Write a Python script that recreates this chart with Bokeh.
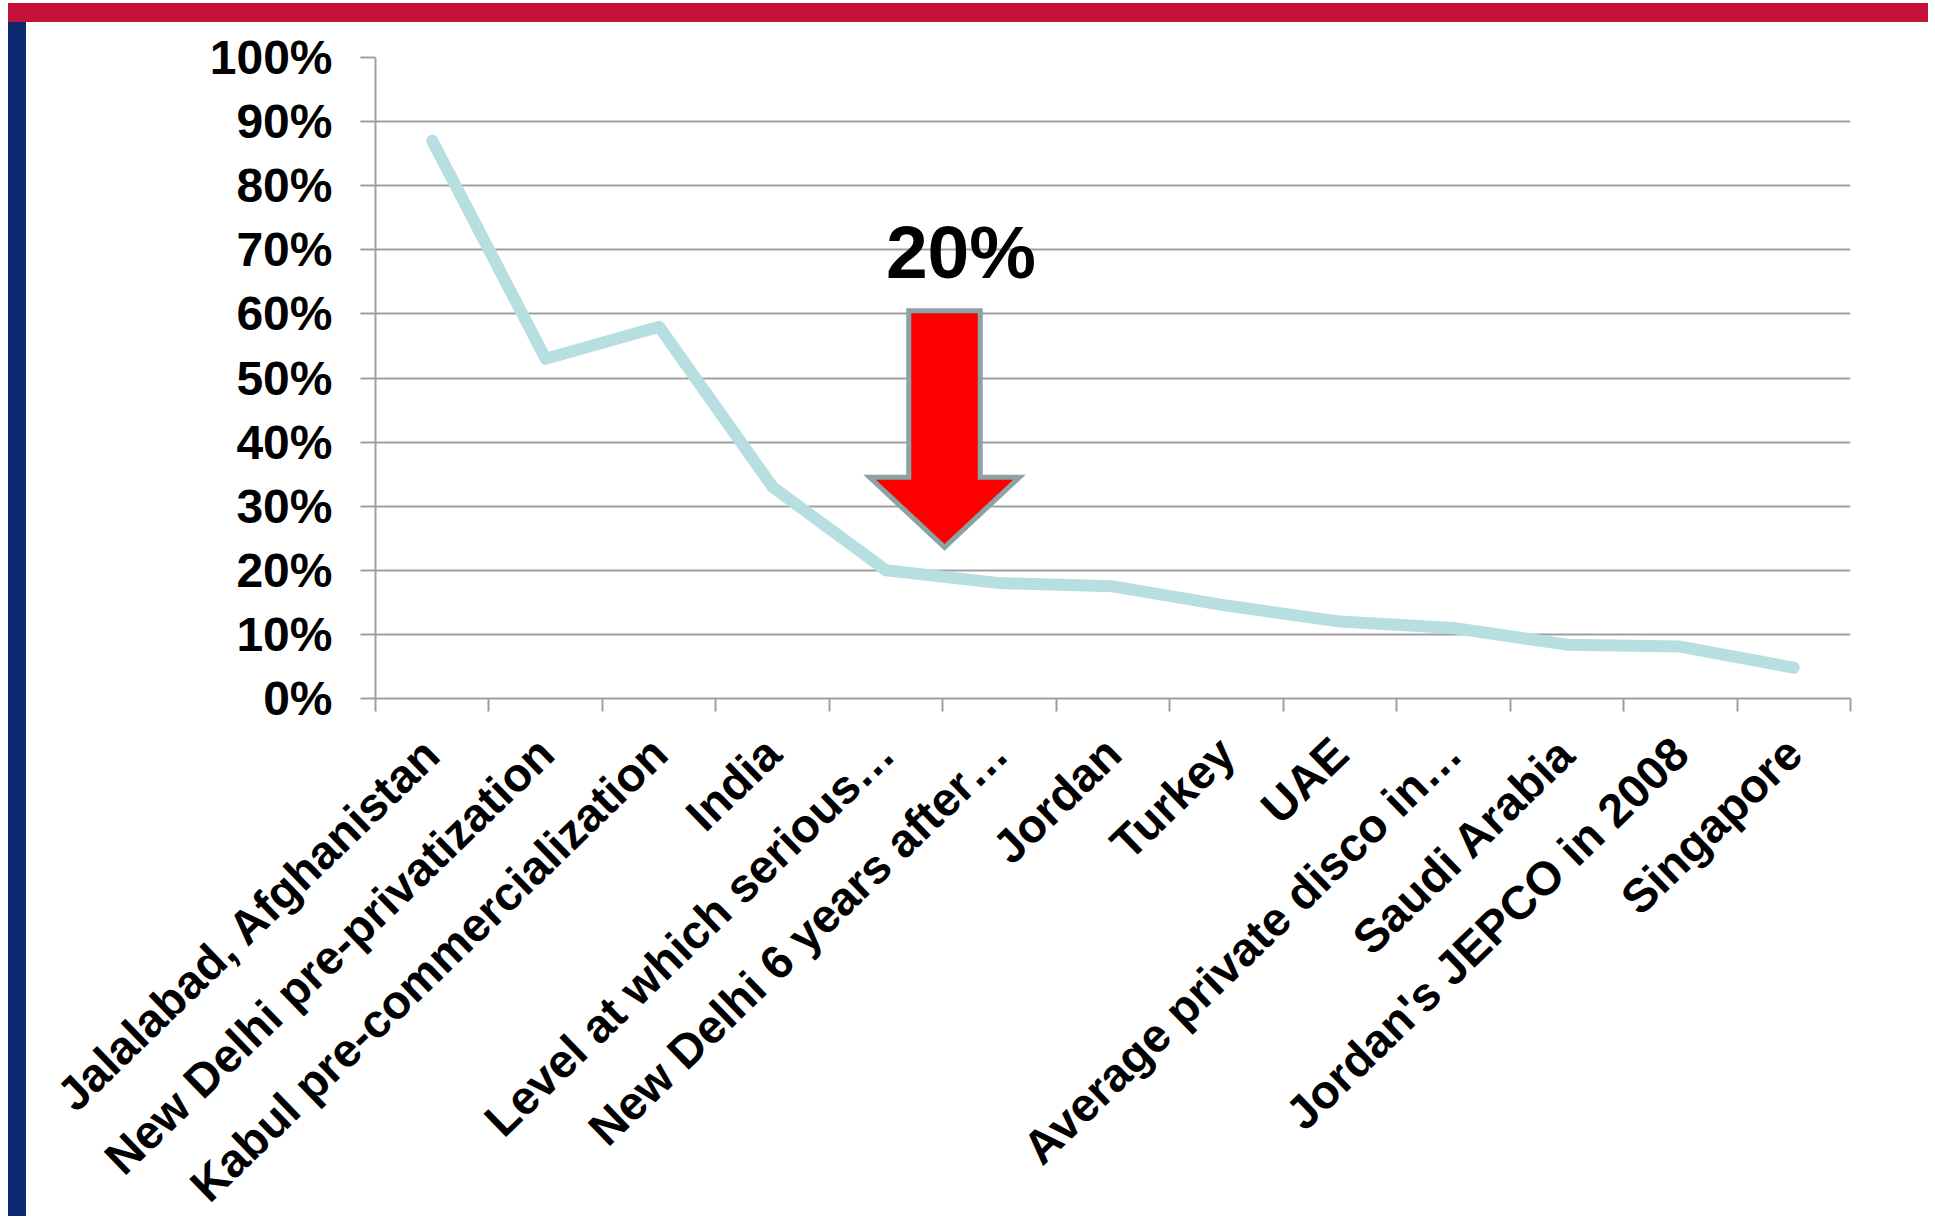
from bokeh.plotting import figure
from bokeh.models import (Range1d, LinearAxis, FixedTicker, NumeralTickFormatter,
                          Label, ColumnDataSource, Div)
from bokeh.layouts import column, row
from bokeh.embed import file_html
from bokeh.resources import INLINE

# ---- data ----
categories = [
    "Jalalabad, Afghanistan",
    "New Delhi pre-privatization",
    "Kabul pre-commercialization",
    "India",
    "Level at which serious\u2026",
    "New Delhi 6 years after\u2026",
    "Jordan",
    "Turkey",
    "UAE",
    "Average private disco in\u2026",
    "Saudi Arabia",
    "Jordan's JEPCO in 2008",
    "Singapore",
]
values = [0.87, 0.53, 0.58, 0.33, 0.20, 0.18, 0.175, 0.145, 0.12, 0.11, 0.084, 0.081, 0.048]
y_ticks = [0.0, 0.1, 0.2, 0.3, 0.4, 0.5, 0.6, 0.7, 0.8, 0.9, 1.0]
callout_text = "20%"

FONT = "Liberation Sans"
GRID = "#9f9f9f"
LINE = "#b7dfe2"
RED_BAR = "#c41239"
BLUE_BAR = "#0b2a6f"

n = len(categories)
centers = [i + 0.5 for i in range(n)]        # category slot centres
bounds = list(range(n + 1))                  # category slot boundaries

# ---- main chart ----
p = figure(frame_width=1475, frame_height=641, x_range=Range1d(0, n), y_range=Range1d(0, 1),
           x_axis_location=None, y_axis_location="left",
           output_backend="svg", toolbar_location=None,
           min_border_left=349, min_border_right=78, min_border_top=35, min_border_bottom=480)
p.outline_line_color = None
p.background_fill_color = "white"
p.border_fill_color = "white"
p.xgrid.grid_line_color = None

# y axis
ya = p.yaxis[0]
ya.ticker = FixedTicker(ticks=y_ticks)
ya.formatter = NumeralTickFormatter(format="0%")
ya.major_label_text_font = FONT
ya.major_label_text_font_style = "bold"
ya.major_label_text_font_size = "48px"
ya.major_label_text_color = "black"
ya.major_label_standoff = 28
ya.major_tick_out = 15
ya.major_tick_in = 0
ya.minor_tick_line_color = None
ya.axis_line_color = GRID
ya.axis_line_width = 2
ya.major_tick_line_color = GRID
ya.major_tick_line_width = 2

p.ygrid.grid_line_color = GRID
p.ygrid.grid_line_width = 2

# x axis: labels at slot centres, tick marks (minor) at slot boundaries
xa = LinearAxis(ticker=FixedTicker(ticks=centers, minor_ticks=bounds))
xa.major_label_overrides = {c: name for c, name in zip(centers, categories)}
xa.axis_line_color = GRID
xa.axis_line_width = 2
xa.major_tick_line_color = None
xa.major_tick_out = 0
xa.major_tick_in = 0
xa.minor_tick_line_color = GRID
xa.minor_tick_line_width = 2
xa.minor_tick_out = 13
xa.minor_tick_in = 0
xa.major_label_orientation = 0.77
xa.major_label_text_font = FONT
xa.major_label_text_font_style = "bold"
xa.major_label_text_font_size = "47px"
xa.major_label_text_color = "black"
xa.major_label_standoff = 34
p.add_layout(xa, "below")

# the series
src = ColumnDataSource(data=dict(x=centers, val=values, cat=categories))
p.line(x="x", y="val", source=src, line_color=LINE, line_width=12,
       line_cap="round", line_join="round")

# callout arrow (annotation shape, pointing at the boundary after "Level at which serious…")
ax = 5.015
shaft_hw = 0.315
head_hw = 0.66
shaft_top = 0.605
head_top = 0.345
tip = 0.236
arrow_x = [ax - shaft_hw, ax + shaft_hw, ax + shaft_hw, ax + head_hw, ax, ax - head_hw, ax - shaft_hw]
arrow_y = [shaft_top, shaft_top, head_top, head_top, tip, head_top, head_top]
p.patch(arrow_x, arrow_y, fill_color="#ff0000",
        line_color="#8aa3a5", line_width=5, line_join="miter")

p.add_layout(Label(x=5.16, y=0.697, text=callout_text,
                   text_font=FONT, text_font_style="bold", text_font_size="75px",
                   text_color="black", text_align="center", text_baseline="alphabetic"))

# ---- decorative bars ----
red = Div(text="", width=1920, height=19, margin=(3, 0, 0, 8),
          styles={"background-color": RED_BAR})
blue = Div(text="", width=18, height=1194, margin=(0, 0, 0, 8),
           styles={"background-color": BLUE_BAR})

layout = column(red, row(blue, p, spacing=0), spacing=0)

open("out.html", "w").write(file_html(layout, INLINE))
